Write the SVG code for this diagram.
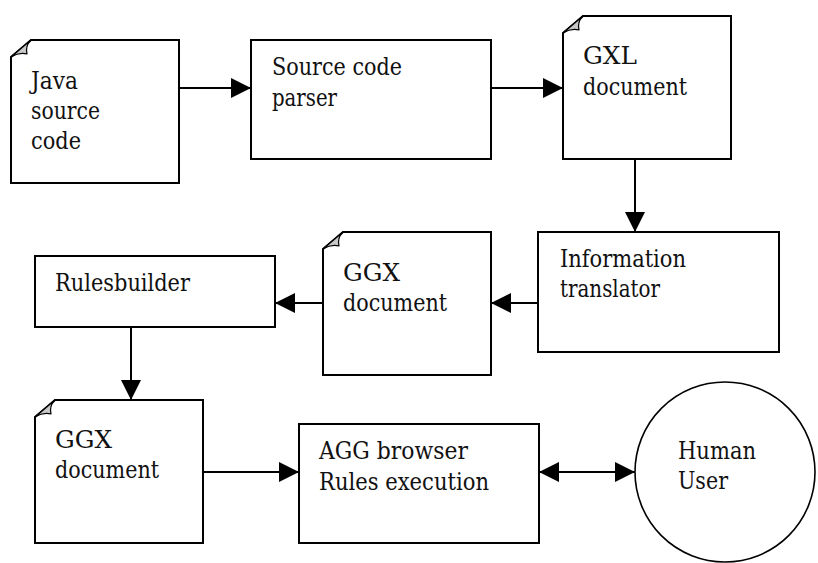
<svg xmlns="http://www.w3.org/2000/svg" width="818" height="563" viewBox="0 0 818 563">
<style>
.box{fill:#fff;stroke:#000;stroke-width:2}
.fold{fill:#c8c8c8;stroke:#000;stroke-width:1.2;stroke-linejoin:round}
.circ{fill:#fff;stroke:#000;stroke-width:1.6}
text{font-family:'DejaVu Serif',serif;font-size:24px;fill:#111}
.con{stroke:#000;stroke-width:2;fill:none}
</style>
<defs>
<marker id="ah" viewBox="0 0 20 20" refX="20" refY="10" markerWidth="20" markerHeight="20" markerUnits="userSpaceOnUse" orient="auto-start-reverse">
<path d="M0,0 L20,10 L0,20 Z" fill="#000"/>
</marker>
</defs>
<rect width="818" height="563" fill="#fff"/>
<g id="connectors">
<line class="con" x1="179" y1="88" x2="251" y2="88" marker-end="url(#ah)"/>
<line class="con" x1="491" y1="88" x2="563" y2="88" marker-end="url(#ah)"/>
<line class="con" x1="635" y1="159" x2="635" y2="232" marker-end="url(#ah)"/>
<line class="con" x1="538" y1="303" x2="491" y2="303" marker-end="url(#ah)"/>
<line class="con" x1="323" y1="303" x2="275" y2="303" marker-end="url(#ah)"/>
<line class="con" x1="131" y1="327" x2="131" y2="400" marker-end="url(#ah)"/>
<line class="con" x1="203" y1="472" x2="299" y2="472" marker-end="url(#ah)"/>
<line class="con" x1="539" y1="472" x2="635" y2="472" marker-start="url(#ah)" marker-end="url(#ah)"/>
</g>
<g id="java-source">
<path class="box" d="M11,57 L31,40 L179,40 L179,183 L11,183 Z"/>
<path class="fold" d="M11,57 L31,40 Q25,46 27,54 Q19,52 11,57 Z"/>
<text x="31" y="89" textLength="47" lengthAdjust="spacingAndGlyphs">Java</text>
<text x="31" y="119" textLength="69" lengthAdjust="spacingAndGlyphs">source</text>
<text x="31" y="149" textLength="50" lengthAdjust="spacingAndGlyphs">code</text>
</g>
<g id="parser">
<rect class="box" x="251" y="40" width="240" height="119"/>
<text x="272" y="75" textLength="130" lengthAdjust="spacingAndGlyphs">Source code</text>
<text x="272" y="106" textLength="65" lengthAdjust="spacingAndGlyphs">parser</text>
</g>
<g id="gxl-doc">
<path class="box" d="M563,33 L583,16 L731,16 L731,159 L563,159 Z"/>
<path class="fold" d="M563,33 L583,16 Q577,22 579,30 Q571,28 563,33 Z"/>
<text x="583" y="64" textLength="54" lengthAdjust="spacingAndGlyphs">GXL</text>
<text x="583" y="95" textLength="104" lengthAdjust="spacingAndGlyphs">document</text>
</g>
<g id="translator">
<rect class="box" x="538" y="232" width="241" height="120"/>
<text x="560" y="267" textLength="126" lengthAdjust="spacingAndGlyphs">Information</text>
<text x="560" y="297" textLength="100" lengthAdjust="spacingAndGlyphs">translator</text>
</g>
<g id="ggx-doc-mid">
<path class="box" d="M323,249 L343,232 L491,232 L491,375 L323,375 Z"/>
<path class="fold" d="M323,249 L343,232 Q337,238 339,246 Q331,244 323,249 Z"/>
<text x="343" y="281" textLength="57" lengthAdjust="spacingAndGlyphs">GGX</text>
<text x="343" y="311" textLength="104" lengthAdjust="spacingAndGlyphs">document</text>
</g>
<g id="rulesbuilder">
<rect class="box" x="35" y="256" width="240" height="71"/>
<text x="55" y="291" textLength="135" lengthAdjust="spacingAndGlyphs">Rulesbuilder</text>
</g>
<g id="ggx-doc-bottom">
<path class="box" d="M35,417 L55,400 L203,400 L203,543 L35,543 Z"/>
<path class="fold" d="M35,417 L55,400 Q49,406 51,414 Q43,412 35,417 Z"/>
<text x="55" y="448" textLength="57" lengthAdjust="spacingAndGlyphs">GGX</text>
<text x="55" y="478" textLength="104" lengthAdjust="spacingAndGlyphs">document</text>
</g>
<g id="agg-browser">
<rect class="box" x="299" y="424" width="240" height="119"/>
<text x="319" y="459" textLength="149" lengthAdjust="spacingAndGlyphs">AGG browser</text>
<text x="319" y="490" textLength="170" lengthAdjust="spacingAndGlyphs">Rules execution</text>
</g>
<g id="human-user">
<circle class="circ" cx="725" cy="472" r="90"/>
<text x="678" y="459" textLength="78" lengthAdjust="spacingAndGlyphs">Human</text>
<text x="678" y="489" textLength="50" lengthAdjust="spacingAndGlyphs">User</text>
</g>
</svg>
